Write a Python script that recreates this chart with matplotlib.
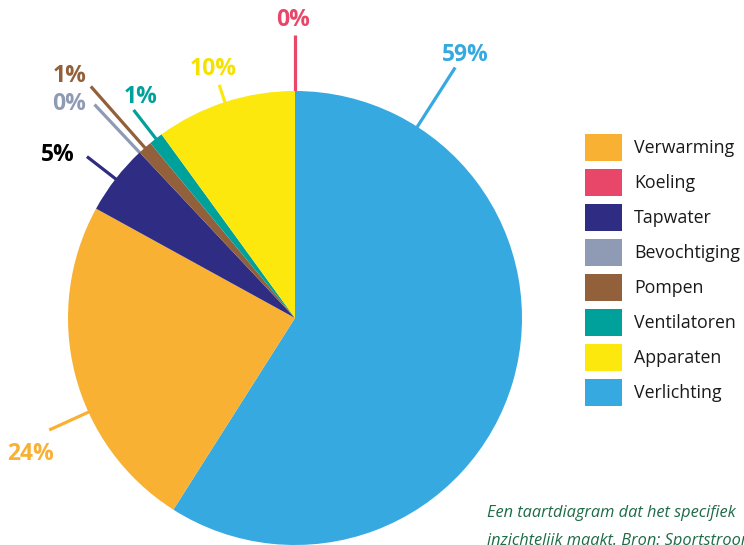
import numpy as np
import matplotlib
matplotlib.use("Agg")
import matplotlib.pyplot as plt
from matplotlib.patches import Rectangle

# ---- data ----
categories = ["Verwarming", "Koeling", "Tapwater", "Bevochtiging",
              "Pompen", "Ventilatoren", "Apparaten", "Verlichting"]
values = [24, 0, 5, 0, 1, 1, 10, 59]
pct_labels = ["24%", "0%", "5%", "0%", "1%", "1%", "10%", "59%"]
colors = ["#F8B133", "#E8476A", "#2E2D83", "#8F9BB5",
          "#92603A", "#00A19A", "#FCE80D", "#36A9E1"]
label_colors = ["#F8B133", "#E8476A", "#000000", "#8F9BB5",
                "#92603A", "#00A19A", "#F6E000", "#36A9E1"]
# clockwise order of the wedges starting at 12 o'clock
pie_order = ["Verlichting", "Verwarming", "Tapwater", "Bevochtiging",
             "Pompen", "Ventilatoren", "Apparaten", "Koeling"]
caption = ["Een taartdiagram dat het specifiek",
           "inzichtelijk maakt. Bron: Sportstroom"]

# ---- layout (not data) ----
W, H = 744, 545
angle_override = {"Verlichting": 57.4, "Verwarming": -155.5}  # std degrees
leader_outer = {"Verlichting": 1.31, "Verwarming": 1.19, "Tapwater": 1.16,
                "Bevochtiging": 1.29, "Pompen": 1.36, "Ventilatoren": 1.16,
                "Apparaten": 1.08, "Koeling": 1.247}
label_offset_px = {"Verlichting": (10, 12), "Verwarming": (-19, -24),
                   "Tapwater": (-29, 2), "Bevochtiging": (-25, 1),
                   "Pompen": (-21, 10), "Ventilatoren": (7, 13),
                   "Apparaten": (-6, 16), "Koeling": (-2, 15)}

fig = plt.figure(figsize=(W / 100, H / 100), dpi=100)
fig.patch.set_facecolor("white")

cx, cy, R = 295, 318, 227
ax = fig.add_axes([(cx - R) / W, (H - cy - R) / H, 2 * R / W, 2 * R / H])

idx = [categories.index(n) for n in pie_order]
pvals = [values[i] for i in idx]
pcols = [colors[i] for i in idx]
wedges, _ = ax.pie(pvals, colors=pcols, startangle=90, counterclock=False,
                   radius=1.0, wedgeprops=dict(linewidth=0))
ax.set_xlim(-1, 1)
ax.set_ylim(-1, 1)
ax.set_aspect("equal")
ax.axis("off")

for name, w in zip(pie_order, wedges):
    i = categories.index(name)
    ang = angle_override.get(name, (w.theta1 + w.theta2) / 2.0)
    a = np.deg2rad(ang)
    r2 = leader_outer[name]
    x1, y1 = np.cos(a) * 0.99, np.sin(a) * 0.99
    x2, y2 = np.cos(a) * r2, np.sin(a) * r2
    ax.plot([x1, x2], [y1, y2], color=colors[i], lw=2.3,
            solid_capstyle="butt", clip_on=False, zorder=0)
    ax.annotate(pct_labels[i], xy=(x2, y2), xytext=label_offset_px[name],
                textcoords="offset pixels", ha="center", va="center",
                fontsize=16.5, fontweight="bold", family="Open Sans",
                color=label_colors[i], annotation_clip=False)

# overlay for legend and caption, in pixel coordinates
ov = fig.add_axes([0, 0, 1, 1])
ov.set_xlim(0, W)
ov.set_ylim(H, 0)
ov.axis("off")
ov.patch.set_alpha(0)

for k, (name, col) in enumerate(zip(categories, colors)):
    yc = 147 + k * 35
    ov.add_patch(Rectangle((585, yc - 13.5), 37, 27, facecolor=col,
                           edgecolor="none"))
    ov.text(634, yc + 1, name, ha="left", va="center", fontsize=12.8,
            family="Open Sans", color="#1a1a1a")

for k, line in enumerate(caption):
    ov.text(487, 517 + k * 28, line, ha="left", va="baseline",
            fontsize=11.8, style="italic", family="Open Sans",
            color="#1E6B46", clip_on=False)

fig.savefig("out.png", dpi=100)
